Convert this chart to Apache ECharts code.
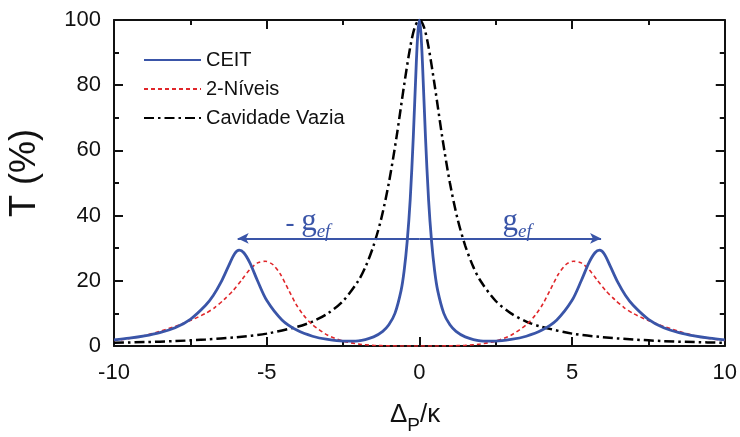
<!DOCTYPE html>
<html><head><meta charset="utf-8">
<script src="https://cdn.jsdelivr.net/npm/echarts@6/dist/echarts.min.js"></script>
<style>html,body{margin:0;padding:0;background:#fff}#c{width:740px;height:437px}</style>
</head><body><div id="c"></div>
<script>
// CEIT (solid blue)
const ceitX = [-10,-9.5,-9,-8.5,-8,-7.5,-7,-6.75,-6.5,-6.25,-6.05,-5.9,-5.75,-5.55,-5.3,-5,-4.5,-4,-3.5,-3,-2.5,-2,-1.5,-1.2,-1,-0.8,-0.6,-0.5,-0.4,-0.3,-0.2,-0.1,-0.05,0,
  0.05,0.1,0.2,0.3,0.4,0.5,0.6,0.8,1,1.2,1.5,2,2.5,3,3.5,4,4.5,5,5.3,5.55,5.75,5.9,6.05,6.25,6.5,6.75,7,7.5,8,8.5,9,9.5,10];
const ceitY = [1.9,2.4,3.1,4.1,5.6,8.2,12.5,15.5,19.5,24.5,28.3,29.4,28.6,25.5,20,14,8,4.8,3,2.0,1.5,1.6,2.8,4.5,6.5,10,17,23,32,45,64,87,96,100,
  96,87,64,45,32,23,17,10,6.5,4.5,2.8,1.6,1.5,2.0,3,4.8,8,14,20,25.5,28.6,29.4,28.3,24.5,19.5,15.5,12.5,8.2,5.6,4.1,3.1,2.4,1.9];
// 2-Níveis (red dashed)
const twoX = [-10,-9.5,-9,-8.5,-8,-7.5,-7,-6.7,-6.4,-6.1,-5.8,-5.55,-5.3,-5.05,-4.8,-4.55,-4.3,-4.05,-3.8,-3.5,-3,-2.5,-2,-1.5,-1,-0.5,0,
  0.5,1,1.5,2,2.5,3,3.5,3.8,4.05,4.3,4.55,4.8,5.05,5.3,5.55,5.8,6.1,6.4,6.7,7,7.5,8,8.5,9,9.5,10];
const twoY = [1.7,2.3,3.2,4.5,6,7.8,10,11.8,14.2,17,20.5,23.5,25.5,26,25,22,17.5,13,9.5,6.5,3.3,1.5,0.6,0.2,0.05,0,0,
  0,0.05,0.2,0.6,1.5,3.3,6.5,9.5,13,17.5,22,25,26,25.5,23.5,20.5,17,14.2,11.8,10,7.8,6,4.5,3.2,2.3,1.7];
// Cavidade Vazia (black dash-dot)
const cavX = [-10,-9,-8,-7,-6,-5,-4,-3.5,-3,-2.5,-2,-1.75,-1.5,-1.25,-1,-0.75,-0.5,-0.3,-0.15,0,
  0.15,0.3,0.5,0.75,1,1.25,1.5,1.75,2,2.5,3,3.5,4,5,6,7,8,9,10];
const cavY = [1.0,1.2,1.5,2.0,2.7,3.8,5.9,7.5,10,13.8,20,24.6,30.8,39,50,64,80,91.7,97.8,100,
  97.8,91.7,80,64,50,39,30.8,24.6,20,13.8,10,7.5,5.9,3.8,2.7,2.0,1.5,1.2,1.0];

const seriesNames = ['CEIT','2-Níveis','Cavidade Vazia'];
const xTicks = [-10,-5,0,5,10];
const yTicks = [0,20,40,60,80,100];
const arrowY = 33, arrowL = -5.95, arrowR = 5.95;

const pairs = (xs, ys) => xs.map((x,i)=>[x, ys[i]]);
const blue = '#3a55a8', red = '#e0262a';
const font = '"Liberation Sans", Arial, sans-serif';
const serif = '"Liberation Serif", "DejaVu Serif", serif';

const axisCommon = {
  axisLine:{show:true, onZero:false, lineStyle:{color:'#111', width:2}},
  axisTick:{show:true, inside:true, length:9, lineStyle:{color:'#111', width:2}},
  minorTick:{show:true, splitNumber:2, length:5, lineStyle:{color:'#111', width:2}},
  splitLine:{show:false}
};
const chart = echarts.init(document.getElementById('c'));
const gefRich = {
  m:{fontFamily:serif, fontSize:27, color:blue, verticalAlign:'bottom'},
  g:{fontFamily:serif, fontSize:31, color:blue, verticalAlign:'bottom'},
  s:{fontFamily:serif, fontSize:19, fontStyle:'italic', color:blue, verticalAlign:'bottom', padding:[0,0,-4,0]}
};
chart.setOption({
  animation:false,
  grid:{left:114, right:15, top:20, bottom:91},
  legend:{
    orient:'vertical', left:143, top:50, padding:0,
    itemWidth:57, itemHeight:14, itemGap:9,
    itemStyle:{opacity:0},
    textStyle:{fontFamily:font, fontSize:20, color:'#111'},
    data:seriesNames
  },
  xAxis:[
    Object.assign({type:'value', min:-10, max:10, interval:5, position:'bottom',
      axisLabel:{fontFamily:font, fontSize:22, color:'#111', margin:16, formatter:v=>xTicks.includes(v)?String(v):''}}, axisCommon),
    Object.assign({type:'value', min:-10, max:10, interval:5, position:'top', axisLabel:{show:false}}, axisCommon)
  ],
  yAxis:[
    Object.assign({type:'value', min:0, max:100, interval:20, position:'left',
      axisLabel:{fontFamily:font, fontSize:22, color:'#111', margin:13, formatter:v=>yTicks.includes(v)?String(v):''}}, axisCommon),
    Object.assign({type:'value', min:0, max:100, interval:20, position:'right', axisLabel:{show:false}}, axisCommon)
  ],
  graphic:[
    {type:'text', left:7, top:129, rotation:Math.PI/2, style:{text:'T (%)', font:'36px '+font, fill:'#111'}},
    {type:'text', left:390, top:402, style:{text:'{a|Δ}{b|P}{a|/κ}', rich:{
      a:{fontFamily:font, fontSize:26, fill:'#111', color:'#111', verticalAlign:'bottom'},
      b:{fontFamily:font, fontSize:19, fill:'#111', color:'#111', verticalAlign:'bottom', padding:[0,0,-7,0]}
    }}}
  ],
  series:[
    {name:seriesNames[2], type:'line', data:pairs(cavX,cavY), symbol:'none', smooth:0.3, z:3,
      lineStyle:{color:'#000', width:2.5, type:[10,4,2.5,4]}, itemStyle:{color:'#000'}},
    {name:seriesNames[1], type:'line', data:pairs(twoX,twoY), symbol:'none', smooth:0.25, z:4,
      lineStyle:{color:red, width:1.6, type:[4,3]}, itemStyle:{color:red}},
    {name:seriesNames[0], type:'line', data:pairs(ceitX,ceitY), symbol:'none', smooth:0.3, z:5,
      lineStyle:{color:blue, width:2.8}, itemStyle:{color:blue},
      markLine:{silent:true, symbol:['none','arrow'], symbolSize:[8,11],
        lineStyle:{color:blue, width:1.8, type:'solid'}, label:{show:false},
        data:[[{coord:[0,arrowY]},{coord:[arrowL,arrowY]}],[{coord:[0,arrowY]},{coord:[arrowR,arrowY]}]]},
      markPoint:{silent:true, symbol:'circle', symbolSize:0,
        label:{show:true, position:'inside', formatter:p=>p.name, rich:gefRich},
        data:[{name:'{m|- }{g|g}{s|ef}', coord:[-3.65,38]},{name:'{g|g}{s|ef}', coord:[3.2,38]}]}
    }
  ]
});
</script></body></html>
